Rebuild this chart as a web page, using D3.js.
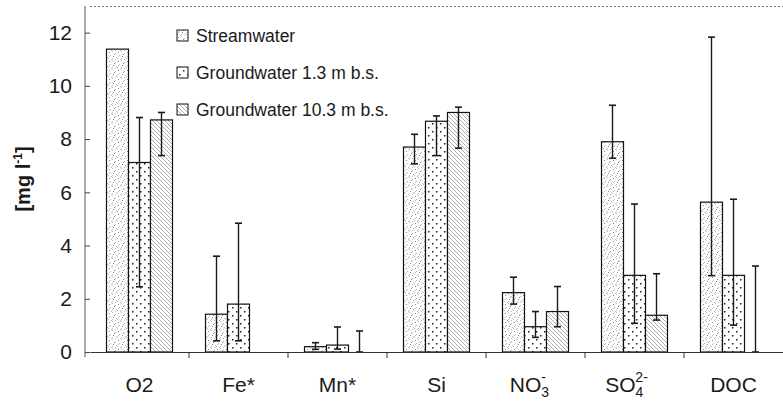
<!DOCTYPE html>
<html>
<head>
<meta charset="utf-8">
<script src="https://cdn.jsdelivr.net/npm/d3@7"></script>
<style>
  body { margin: 0; background: #fff; }
  text { font-family: Arial, "Liberation Sans", sans-serif; fill: #1a1a1a; }
</style>
</head>
<body>
<div id="chart"></div>
<script>
// chart data

var categories = ["O2", "Fe*", "Mn*", "Si", "NO3", "SO4", "DOC"];
var seriesNames = ["Streamwater", "Groundwater 1.3 m b.s.", "Groundwater 10.3 m b.s."];

var streamwater = [11.38, 1.42, 0.2, 7.7, 2.23, 7.9, 5.63];
var gw13 = [7.12, 1.8, 0.26, 8.67, 0.95, 2.88, 2.88];
var gw103 = [8.72, 0, 0, 9.0, 1.52, 1.38, 0];

// error bars as [low, high], null where none drawn
var streamErr = [null, [0.42, 3.6], [0.1, 0.35], [7.07, 8.18], [1.8, 2.81], [7.28, 9.27], [2.87, 11.83]];
var gw13Err = [[2.45, 8.81], [0.42, 4.84], [0.11, 0.94], [7.38, 8.87], [0.55, 1.52], [1.08, 5.56], [1.01, 5.74]];
var gw103Err = [[7.38, 9.0], null, [0, 0.79], [7.66, 9.2], [0.95, 2.46], [1.2, 2.94], [0, 3.23]];

var yTicks = [0, 2, 4, 6, 8, 10, 12];

// svg area
var svgWidth = 783;
var svgHeight = 402;

var margin = { top: 6, bottom: 50, right: 0, left: 90 };
var chartWidth = svgWidth - margin.left - margin.right;
var chartHeight = svgHeight - margin.top - margin.bottom;

var svg = d3.select("#chart")
  .append("svg")
  .attr("width", svgWidth)
  .attr("height", svgHeight);

// fill patterns for the three series
var defs = svg.append("defs");

var p0 = defs.append("pattern").attr("id", "pat0")
  .attr("patternUnits", "userSpaceOnUse").attr("width", 9).attr("height", 9);
p0.append("rect").attr("width", 9).attr("height", 9).attr("fill", "#fff");
[[1,1],[4,0],[7,2],[2,4],[5,5],[8,6],[0,7],[3,8],[6,3],[4,7],[1,5],[7,8]].forEach(function(d, i) {
  p0.append("rect").attr("x", d[0]).attr("y", d[1]).attr("width", 1).attr("height", 1)
    .attr("fill", i % 4 == 0 ? "#888" : "#bbb");
});

var p1 = defs.append("pattern").attr("id", "pat1")
  .attr("patternUnits", "userSpaceOnUse").attr("width", 8).attr("height", 8);
p1.append("rect").attr("width", 8).attr("height", 8).attr("fill", "#fff");
p1.append("rect").attr("x", 2).attr("y", 1).attr("width", 1.5).attr("height", 1.5).attr("fill", "#222");
p1.append("rect").attr("x", 6).attr("y", 5).attr("width", 1.5).attr("height", 1.5).attr("fill", "#222");

var p2 = defs.append("pattern").attr("id", "pat2")
  .attr("patternUnits", "userSpaceOnUse").attr("width", 4).attr("height", 4);
p2.append("rect").attr("width", 4).attr("height", 4).attr("fill", "#fff");
p2.append("path").attr("d", "M-1,-1 L5,5 M-1,3 L1,5 M3,-1 L5,1")
  .attr("stroke", "#999").attr("stroke-width", 0.8);

var chartGroup = svg.append("g")
  .attr("transform", `translate(${margin.left}, ${margin.top})`);

// scales
var xScale = d3.scaleBand()
  .domain(categories)
  .range([0, chartWidth]);

var xSub = d3.scaleBand()
  .domain(seriesNames)
  .range([xScale.bandwidth() / 6, xScale.bandwidth() * 5 / 6]);

var yScale = d3.scaleLinear()
  .domain([0, 13])
  .range([chartHeight, 0]);

// top dotted frame line
chartGroup.append("line")
  .attr("x1", 0).attr("x2", chartWidth)
  .attr("y1", 0.5).attr("y2", 0.5)
  .attr("stroke", "#777")
  .attr("stroke-dasharray", "2,2");

// bars
var seriesData = [streamwater, gw13, gw103];
var seriesErr = [streamErr, gw13Err, gw103Err];

seriesData.forEach(function(vals, s) {
  chartGroup.append("g")
    .selectAll("rect")
    .data(vals.map(function(v, i) { return { cat: categories[i], v: v }; }).filter(function(d) { return d.v > 0; }))
    .enter()
    .append("rect")
    .attr("x", d => xScale(d.cat) + xSub(seriesNames[s]))
    .attr("y", d => yScale(d.v))
    .attr("width", xSub.bandwidth())
    .attr("height", d => chartHeight - yScale(d.v))
    .attr("fill", "url(#pat" + s + ")")
    .attr("stroke", "#111")
    .attr("stroke-width", 1.2);
});

// error bars
seriesErr.forEach(function(errs, s) {
  var eg = chartGroup.append("g");
  errs.forEach(function(e, i) {
    if (!e) return;
    var cx = xScale(categories[i]) + xSub(seriesNames[s]) + xSub.bandwidth() / 2;
    eg.append("line")
      .attr("x1", cx).attr("x2", cx)
      .attr("y1", yScale(e[0])).attr("y2", yScale(e[1]))
      .attr("stroke", "#1a1a1a").attr("stroke-width", 1.4);
    e.forEach(function(v) {
      eg.append("line")
        .attr("x1", cx - 3.5).attr("x2", cx + 3.5)
        .attr("y1", yScale(v)).attr("y2", yScale(v))
        .attr("stroke", "#1a1a1a").attr("stroke-width", 1.6);
    });
  });
});

// axes
var leftAxis = d3.axisLeft(yScale).tickValues(yTicks).tickSize(5).tickPadding(13);
var yAxisG = chartGroup.append("g").call(leftAxis);
yAxisG.select(".domain").attr("stroke", "#555").attr("d", `M-5,${chartHeight + 5}V0`);
yAxisG.selectAll(".tick line").attr("stroke", "#444");
yAxisG.selectAll(".tick text")
  .style("font-size", "21px")
  .attr("fill", "#1a1a1a");

var bottomAxis = d3.axisBottom(xScale).tickSize(0).tickPadding(20);
var xAxisG = chartGroup.append("g")
  .attr("transform", `translate(0, ${chartHeight})`)
  .call(bottomAxis);
xAxisG.select(".domain").attr("stroke", "#333").attr("stroke-width", 1.2);

// category boundary ticks
xAxisG.selectAll(".sep")
  .data(categories.slice(1))
  .enter()
  .append("line")
  .attr("class", "sep")
  .attr("x1", d => xScale(d)).attr("x2", d => xScale(d))
  .attr("y1", 0).attr("y2", 6)
  .attr("stroke", "#333");

// x labels with chemical sub/superscripts
xAxisG.selectAll(".tick text").each(function(d) {
  var t = d3.select(this)
    .text(null)
    .style("font-size", "21px")
    .attr("fill", "#1a1a1a")
    .attr("y", 40)
    .attr("dy", null);
  if (d == "NO3") {
    t.attr("dx", -6);
    t.append("tspan").text("NO");
    t.append("tspan").text("3").style("font-size", "14px").attr("dy", 5);
    t.append("tspan").text("-").style("font-size", "14px").attr("dx", -8).attr("dy", -15);
  } else if (d == "SO4") {
    t.attr("dx", -8);
    t.append("tspan").text("SO");
    t.append("tspan").text("4").style("font-size", "14px").attr("dy", 5);
    t.append("tspan").text("2-").style("font-size", "14px").attr("dx", -8).attr("dy", -15);
  } else {
    t.text(d);
  }
});

// y axis title
svg.append("text")
  .attr("transform", "translate(30, 179) rotate(-90)")
  .attr("text-anchor", "middle")
  .style("font-size", "20px")
  .style("font-weight", "bold")
  .text("[mg l")
  .append("tspan").text("-1").style("font-size", "12px").attr("dy", -8)
  .select(function() { return this.parentNode; })
  .append("tspan").text("]").attr("dy", 8);

// legend
var legend = svg.append("g")
  .attr("transform", "translate(177, 36)");

seriesNames.forEach(function(name, i) {
  var row = legend.append("g").attr("transform", `translate(0, ${i * 37})`);
  row.append("rect")
    .attr("x", 0).attr("y", -6)
    .attr("width", 11).attr("height", 11)
    .attr("fill", "url(#pat" + i + ")")
    .attr("stroke", "#111");
  row.append("text")
    .attr("x", 19).attr("y", 6)
    .style("font-size", "17.5px")
    .text(name);
});
</script>
</body>
</html>
